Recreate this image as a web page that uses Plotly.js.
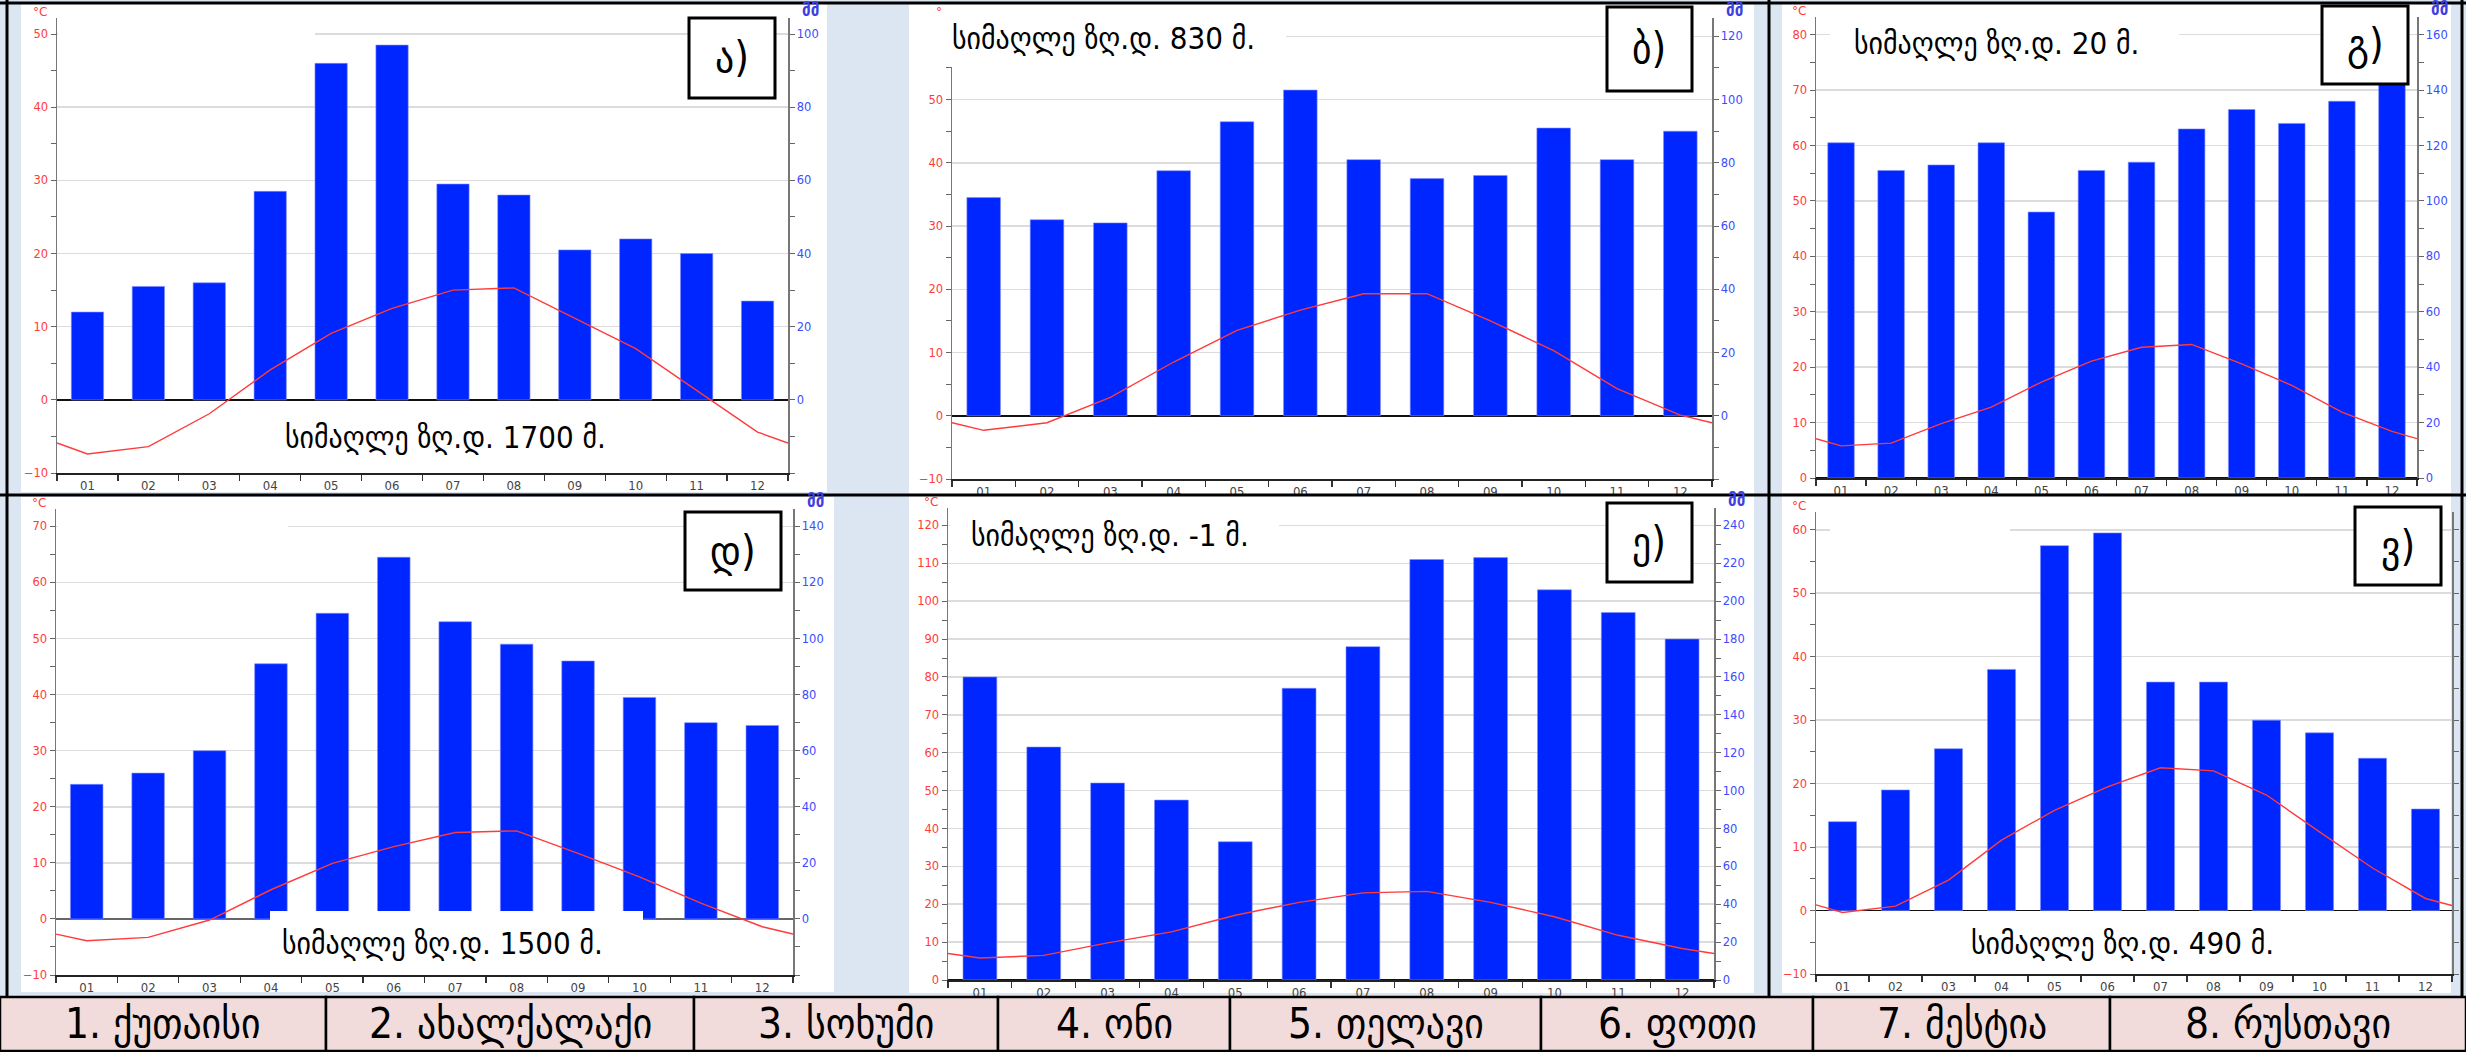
<!DOCTYPE html>
<html>
<head>
<meta charset="utf-8">
<script src="https://cdn.plot.ly/plotly-3.0.1.min.js"></script>
<style>
  html, body { margin: 0; padding: 0; background: #dce6f2; }
  #chart { width: 2466px; height: 1052px; }
</style>
</head>
<body>
<div id="chart"></div>
<script>
var W = 2466, H = 1052;

var months = ['01', '02', '03', '04', '05', '06', '07', '08', '09', '10', '11', '12'];
var cities = ['1. ქუთაისი', '2. ახალქალაქი', '3. სოხუმი', '4. ონი',
              '5. თელავი', '6. ფოთი', '7. მესტია', '8. რუსთავი'];
var letters = ['ა)', 'ბ)', 'გ)', 'დ)', 'ე)', 'ვ)'];
var heights = ['სიმაღლე ზღ.დ. 1700 მ.', 'სიმაღლე ზღ.დ. 830 მ.', 'სიმაღლე ზღ.დ. 20 მ.',
               'სიმაღლე ზღ.დ. 1500 მ.', 'სიმაღლე ზღ.დ. -1 მ.', 'სიმაღლე ზღ.დ. 490 მ.'];

// precipitation, mm (bars)
var rainA = [24, 31, 32, 57, 92, 97, 59, 56, 41, 44, 40, 27];
var rainB = [69, 62, 61, 77.5, 93, 103, 81, 75, 76, 91, 81, 90];
var rainG = [121, 111, 113, 121, 96, 111, 114, 126, 133, 128, 136, 145];
var rainD = [48, 52, 60, 91, 109, 129, 106, 98, 92, 79, 70, 69];
var rainE = [160, 123, 104, 95, 73, 154, 176, 222, 223, 206, 194, 180];
var rainV = [28, 38, 51, 76, 115, 119, 72, 72, 60, 56, 48, 32];

// mean temperature, °C (line)
var tempA = [-7.4, -6.4, -1.9, 4.1, 9.1, 12.5, 15.0, 15.3, 11.1, 7.0, 1.3, -4.4];
var tempB = [-2.3, -1.1, 2.9, 8.5, 13.5, 16.7, 19.3, 19.3, 15.0, 10.3, 4.3, 0.1];
var tempG = [5.8, 6.3, 9.8, 12.8, 17.3, 21.1, 23.6, 24.1, 20.6, 16.7, 11.9, 8.4];
var tempD = [-3.9, -3.3, -0.2, 5.2, 9.9, 12.9, 15.4, 15.7, 11.7, 7.5, 2.8, -1.4];
var tempE = [5.8, 6.5, 9.8, 12.7, 17.1, 20.5, 23.0, 23.4, 20.5, 16.7, 11.8, 8.3];
var tempV = [-0.3, 0.7, 4.8, 11.1, 15.8, 19.5, 22.5, 22.0, 18.2, 12.4, 6.7, 1.9];

// where the temperature line meets the left and right axis
var edgeA = [-5.9, -5.9];
var edgeB = [-1.1, -1.1];
var edgeG = [7.1, 7.1];
var edgeD = [-2.7, -2.7];
var edgeE = [7.0, 7.0];
var edgeV = [0.9, 0.8];

// axis extents, °C (mm axis is twice this)
var tempMin = [-10, -10, 0, -10, 0, -10];
var tempTopLabel = [50, 60, 80, 70, 120, 60];

var rains = [rainA, rainB, rainG, rainD, rainE, rainV];
var temps = [tempA, tempB, tempG, tempD, tempE, tempV];
var edges = [edgeA, edgeB, edgeG, edgeD, edgeE, edgeV];

// pixel geometry of each panel: plot area, white card, tick-range top
var plots = [
  {l: 57, r: 788, t: 18, b: 473, top: 52.2},
  {l: 952, r: 1712, t: 18, b: 479, top: 62.9},
  {l: 1816, r: 2417, t: 17, b: 478, top: 83.2},
  {l: 56, r: 793, t: 509, b: 975, top: 73.1},
  {l: 948, r: 1714, t: 508, b: 980, top: 124.6},
  {l: 1816, r: 2452, t: 512, b: 974, top: 62.8}
];
var cards = [[21, 827, 4, 492], [909, 1754, 4, 497], [1782, 2451, 4, 493],
             [21, 834, 497, 992], [909, 1754, 495, 993], [1782, 2451, 496, 993]];
var letterBoxes = [[689, 775, 18, 98], [1607, 1692, 7, 91], [2322, 2408, 6, 84],
                   [685, 781, 512, 590], [1607, 1692, 503, 582], [2355, 2441, 507, 585]];
// [x, y, anchor]
var heightPos = [[445, 437, 'center'], [950, 38, 'left'], [1852, 43, 'left'],
                 [442, 943, 'center'], [969, 535, 'left'], [2122, 943, 'center']];
// white patches that sit over the chart in the original
var covers = [[58, 315, 24, 46], [929, 1286, 4, 67], [1830, 2179, 20, 77],
              [58, 288, 515, 537], [950, 1279, 497, 563], [1830, 2010, 518, 540],
              [270, 643, 911, 968]];
var cellEdges = [0, 326, 694, 998, 1230, 1541, 1813, 2110, 2466];

function px(x) { return x / W; }
function py(y) { return 1 - y / H; }
function range(a, b, step) { var out = []; for (var v = a; v <= b + 1e-9; v += step) out.push(v); return out; }

var tickFont = {family: 'DejaVu Sans, sans-serif', size: 11.5};
var xTickFont = {family: 'DejaVu Sans Condensed, DejaVu Sans, sans-serif', size: 13, color: '#444'};
var geoFont = 'DejaVu Sans Condensed, DejaVu Sans, sans-serif';

var data = [];
var layout = {
  width: W, height: H,
  margin: {l: 0, r: 0, t: 0, b: 0},
  paper_bgcolor: '#dce6f2',
  plot_bgcolor: 'rgba(0,0,0,0)',
  showlegend: false,
  bargap: 0.47,
  shapes: [],
  annotations: []
};

for (var i = 0; i < 6; i++) {
  var n = i + 1;
  var xName = n == 1 ? 'x' : 'x' + n;
  var yBase = 2 * i + 1, yOver = 2 * i + 2;
  var yBaseName = yBase == 1 ? 'y' : 'y' + yBase;
  var yOverName = 'y' + yOver;
  var p = plots[i];

  data.push({
    x: range(1, 12, 1), y: rains[i],
    type: 'bar', xaxis: xName, yaxis: yBaseName,
    marker: {color: '#0026ff', line: {color: '#7f8cff', width: 0.6}},
    hoverinfo: 'y'
  });
  data.push({
    x: [0.5].concat(range(1, 12, 1), [12.5]),
    y: [edges[i][0]].concat(temps[i], [edges[i][1]]),
    type: 'scatter', mode: 'lines', xaxis: xName, yaxis: yOverName,
    line: {color: '#ff3a3a', width: 1.4},
    hoverinfo: 'y', cliponaxis: false
  });

  layout[xName.replace('x', 'xaxis')] = {
    domain: [px(p.l), px(p.r)],
    anchor: yBaseName,
    range: [0.5, 12.5],
    tickvals: range(1, 12, 1), ticktext: months,
    ticks: '',
    minor: {tick0: 0.5, dtick: 1, ticks: 'outside', ticklen: 6, tickcolor: '#333', tickwidth: 1.2},
    showline: true, linecolor: '#222', linewidth: 1.5,
    showgrid: false, zeroline: false,
    tickfont: xTickFont,
    fixedrange: true
  };

  var tMax = tempTopLabel[i];
  layout['yaxis' + (yBase == 1 ? '' : yBase)] = {
    domain: [py(p.b), py(p.t)],
    anchor: xName, side: 'right',
    range: [2 * tempMin[i], 2 * p.top],
    tickvals: i == 5 ? [] : range(0, 2 * tMax, 20),
    showticklabels: i != 5,
    ticks: 'outside', ticklen: 5, tickcolor: '#666',
    minor: {tick0: 0, dtick: 10, ticks: 'outside', ticklen: 5, tickcolor: '#666'},
    showgrid: false,
    zeroline: true, zerolinecolor: i == 3 ? '#666' : '#111', zerolinewidth: 1.5,
    showline: true, linecolor: '#777', linewidth: 1.5,
    tickfont: Object.assign({color: '#3a4dff'}, tickFont),
    fixedrange: true
  };
  layout['yaxis' + yOver] = {
    overlaying: yBaseName, anchor: xName, side: 'left',
    range: [tempMin[i], p.top],
    tickvals: range(tempMin[i], tMax, 10),
    ticks: 'outside', ticklen: 5, tickcolor: '#666',
    minor: {tick0: 0, dtick: 5, ticks: 'outside', ticklen: 5, tickcolor: '#666'},
    showgrid: true, gridcolor: '#dcdcdc', gridwidth: 1.5,
    zeroline: false,
    showline: true, linecolor: '#777', linewidth: 1.5,
    tickfont: Object.assign({color: '#ff3b3b'}, tickFont),
    fixedrange: true
  };

  // white card behind the panel
  var c = cards[i];
  layout.shapes.push({type: 'rect', xref: 'paper', yref: 'paper', layer: 'below',
    x0: px(c[0]), x1: px(c[1]), y0: py(c[3]), y1: py(c[2]),
    fillcolor: '#ffffff', line: {width: 0}});

  // letter box
  var lb = letterBoxes[i];
  layout.shapes.push({type: 'rect', xref: 'paper', yref: 'paper', layer: 'above',
    x0: px(lb[0]), x1: px(lb[1]), y0: py(lb[3]), y1: py(lb[2]),
    fillcolor: '#ffffff', line: {color: '#000', width: 3}});
  layout.annotations.push({xref: 'paper', yref: 'paper', showarrow: false,
    x: px((lb[0] + lb[1]) / 2), y: py((lb[2] + lb[3]) / 2),
    xanchor: 'center', yanchor: 'middle', text: letters[i],
    font: {family: geoFont, size: 42, color: '#000'}});

  // altitude text
  var hp = heightPos[i];
  layout.annotations.push({xref: 'paper', yref: 'paper', showarrow: false,
    x: px(hp[0]), y: py(hp[1]), xanchor: hp[2], yanchor: 'middle',
    text: heights[i], font: {family: geoFont, size: 31, color: '#000'}});

  // unit labels
  layout.annotations.push({xref: 'paper', yref: 'paper', showarrow: false,
    x: px(p.l - 8), y: py(p.t - 6), xanchor: 'right', yanchor: 'middle',
    text: i == 1 ? '°' : '°C', font: {family: tickFont.family, size: 12, color: '#ff3b3b'}});
  if (i != 5) {
    layout.annotations.push({xref: 'paper', yref: 'paper', showarrow: false,
      x: px(p.r + 22), y: py(p.t - 8), xanchor: 'center', yanchor: 'middle',
      text: '<b>მმ</b>', font: {family: geoFont, size: 17, color: '#4040e0'}});
  }
}

covers.forEach(function (b) {
  layout.shapes.push({type: 'rect', xref: 'paper', yref: 'paper', layer: 'above',
    x0: px(b[0]), x1: px(b[1]), y0: py(b[3]), y1: py(b[2]),
    fillcolor: '#ffffff', line: {width: 0}});
});

// frame lines
[[0, 3, 2466, 3], [0, 495, 2466, 495], [7, 0, 7, 997], [1769, 0, 1769, 997], [2462, 0, 2462, 997]]
  .forEach(function (l) {
    layout.shapes.push({type: 'line', xref: 'paper', yref: 'paper', layer: 'above',
      x0: px(l[0]), y0: py(l[1]), x1: px(l[2]), y1: py(l[3]),
      line: {color: '#000', width: 3}});
  });

// table of city names
for (var k = 0; k < cities.length; k++) {
  layout.shapes.push({type: 'rect', xref: 'paper', yref: 'paper', layer: 'above',
    x0: px(cellEdges[k]), x1: px(cellEdges[k + 1]), y0: py(1051), y1: py(997),
    fillcolor: '#f2dcdb', line: {color: '#000', width: 2.5}});
  layout.annotations.push({xref: 'paper', yref: 'paper', showarrow: false,
    x: px((cellEdges[k] + cellEdges[k + 1]) / 2), y: py(1023),
    xanchor: 'center', yanchor: 'middle', text: cities[k],
    font: {family: geoFont, size: 42, color: '#000'}});
}

Plotly.newPlot('chart', data, layout, {staticPlot: true});
</script>
</body>
</html>
